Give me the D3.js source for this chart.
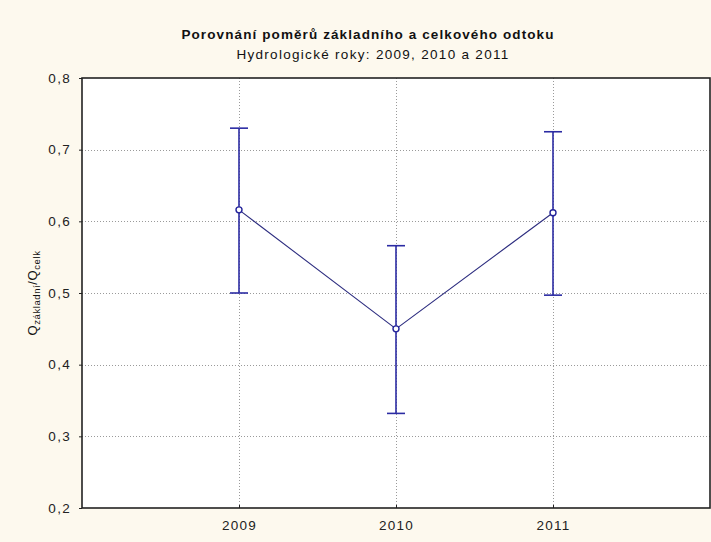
<!DOCTYPE html>
<html>
<head>
<meta charset="utf-8">
<script src="https://cdn.jsdelivr.net/npm/d3@7"></script>
<style>
  html, body { margin: 0; padding: 0; background: #fdf9ee; }
  svg { display: block; }
  text { font-family: "Liberation Sans", Arial, sans-serif; }
</style>
</head>
<body>
<script>
// Ratio of base flow to total flow per hydrological year (mean with interval)
const years = [2009, 2010, 2011];
const means = [0.616, 0.450, 0.612];
const upper = [0.730, 0.566, 0.725];
const lower = [0.500, 0.332, 0.497];
const yTicks = [0.2, 0.3, 0.4, 0.5, 0.6, 0.7, 0.8];

const W = 711, H = 542;
const plot = { left: 82, right: 710, top: 78, bottom: 508 };

const svg = d3.select("body").append("svg")
  .attr("width", W).attr("height", H);

svg.append("rect").attr("width", W).attr("height", H).attr("fill", "#fdf9ee");

const x = d3.scaleLinear().domain([2008, 2012]).range([plot.left, plot.right]);
const y = d3.scaleLinear().domain([0.2, 0.8]).range([plot.bottom, plot.top]);

svg.append("rect")
  .attr("x", plot.left).attr("y", plot.top)
  .attr("width", plot.right - plot.left).attr("height", plot.bottom - plot.top)
  .attr("fill", "#ffffff");

// Dotted grid
const grid = svg.append("g").attr("stroke", "#9a9a9a").attr("stroke-width", 1)
  .attr("stroke-dasharray", "1,2");
grid.selectAll(".gy").data(yTicks.slice(1, -1)).enter().append("line")
  .attr("x1", plot.left).attr("x2", plot.right)
  .attr("y1", d => Math.round(y(d)) + 0.5).attr("y2", d => Math.round(y(d)) + 0.5);
grid.selectAll(".gx").data(years).enter().append("line")
  .attr("y1", plot.top).attr("y2", plot.bottom)
  .attr("x1", d => Math.round(x(d)) + 0.5).attr("x2", d => Math.round(x(d)) + 0.5);

// Axes
const fmt = d => d.toFixed(1).replace(".", ",");
const yAxis = svg.append("g").attr("transform", `translate(${plot.left},0)`)
  .call(d3.axisLeft(y).tickValues(yTicks).tickFormat(fmt).tickSize(3).tickPadding(8));
const xAxis = svg.append("g").attr("transform", `translate(0,${plot.bottom})`)
  .call(d3.axisBottom(x).tickValues(years).tickFormat(d3.format("d")).tickSize(-3).tickPadding(12));
[yAxis, xAxis].forEach(a => {
  a.select(".domain").remove();
  a.selectAll("line").attr("stroke", "#222");
  a.selectAll("text").attr("font-size", 13.5).attr("letter-spacing", 1.3).attr("fill", "#222");
});

// Frame
svg.append("rect")
  .attr("x", plot.left).attr("y", plot.top)
  .attr("width", plot.right - plot.left).attr("height", plot.bottom - plot.top)
  .attr("fill", "none").attr("stroke", "#222").attr("stroke-width", 1.6);

// Connecting line
const pts = years.map((yr, i) => [x(yr), y(means[i])]);
svg.append("path")
  .attr("d", d3.line()(pts))
  .attr("fill", "none").attr("stroke", "#2e2e80").attr("stroke-width", 1.1);

// Error bars
const eb = svg.append("g").attr("stroke", "#2b2ba3").attr("stroke-width", 1.6);
years.forEach((yr, i) => {
  const cx = x(yr);
  eb.append("line").attr("x1", cx).attr("x2", cx).attr("y1", y(upper[i])).attr("y2", y(lower[i]));
  eb.append("line").attr("x1", cx - 9).attr("x2", cx + 9).attr("y1", y(upper[i])).attr("y2", y(upper[i]));
  eb.append("line").attr("x1", cx - 9).attr("x2", cx + 9).attr("y1", y(lower[i])).attr("y2", y(lower[i]));
});

// Markers
svg.selectAll(".pt").data(pts).enter().append("circle")
  .attr("cx", d => d[0]).attr("cy", d => d[1]).attr("r", 3)
  .attr("fill", "#ffffff").attr("stroke", "#22229a").attr("stroke-width", 1.4);

// Titles
svg.append("text").attr("x", 368).attr("y", 39).attr("text-anchor", "middle")
  .attr("font-size", 13.5).attr("font-weight", "bold").attr("letter-spacing", 1.1).attr("fill", "#111")
  .text("Porovnání poměrů základního a celkového odtoku");
svg.append("text").attr("x", 373).attr("y", 59).attr("text-anchor", "middle")
  .attr("font-size", 13.5).attr("letter-spacing", 1.3).attr("fill", "#111")
  .text("Hydrologické roky: 2009, 2010 a 2011");

// Y axis title with subscripts
const yt = svg.append("text")
  .attr("transform", `translate(37,${(plot.top + plot.bottom) / 2}) rotate(-90)`)
  .attr("text-anchor", "middle").attr("font-size", 13).attr("letter-spacing", 0.6).attr("fill", "#111");
yt.append("tspan").text("Q");
yt.append("tspan").attr("font-size", 9.5).attr("dy", 3).text("základní");
yt.append("tspan").attr("dy", -3).text("/Q");
yt.append("tspan").attr("font-size", 9.5).attr("dy", 3).text("celk");
</script>
</body>
</html>
